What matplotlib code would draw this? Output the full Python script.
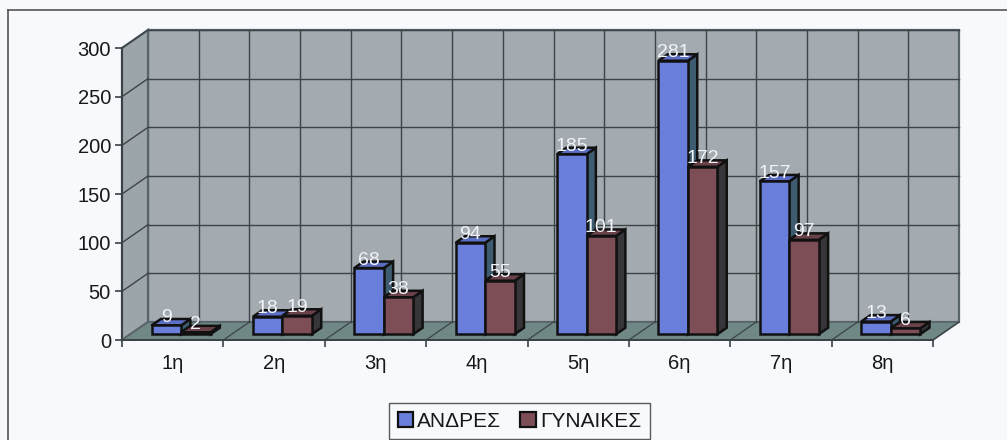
import matplotlib
matplotlib.use("Agg")
import matplotlib.pyplot as plt
from matplotlib.patches import Polygon, Patch
from matplotlib.lines import Line2D
import numpy as np

plt.rcParams['font.family'] = ['Liberation Sans', 'DejaVu Sans']

# --- data ---
categories = ['1η', '2η', '3η', '4η', '5η', '6η', '7η', '8η']
series_names = ['ΑΝΔΡΕΣ', 'ΓΥΝΑΙΚΕΣ']
men = [9, 18, 68, 94, 185, 281, 157, 13]
women = [2, 19, 38, 55, 101, 172, 97, 6]
y_ticks = list(range(0, 301, 50))

# --- style ---
bg = '#f7f9fc'
wall = '#a3abb0'
side_wall = '#9ca5aa'
floor = '#6f8886'
grid_c = '#3c4448'
front_c = ['#6a7edb', '#7e4e57']
side_c = ['#3d5c70', '#36363a']
top_c = ['#5c6fc4', '#6a424a']
text_c = '#181818'

fig = plt.figure(figsize=(10.07, 4.40), dpi=100, facecolor=bg)
ax = fig.add_axes([122 / 1007, 100 / 440, 811 / 1007, 292 / 440])
ax.set_facecolor('none')
n = len(categories)
ymax = y_ticks[-1]
ax.set_xlim(0, n)
ax.set_ylim(0, ymax)

# oblique depth of the plot box, in data units
DX, DY = 0.2565, 18.5


def poly(pts, fc, ec=grid_c, lw=1.0, z=1):
    p = Polygon(pts, closed=True, facecolor=fc, edgecolor=ec, linewidth=lw,
                clip_on=False, zorder=z, joinstyle='miter')
    ax.add_patch(p)
    return p


def seg(x0, y0, x1, y1, lw=1.0, z=1.5, c=grid_c):
    ax.add_line(Line2D([x0, x1], [y0, y1], color=c, lw=lw, clip_on=False,
                       zorder=z))


# back wall, side wall and floor
poly([(DX, DY), (n + DX, DY), (n + DX, ymax + DY), (DX, ymax + DY)], wall,
     ec='#58646a', lw=1.6, z=1)
poly([(0, 0), (DX, DY), (DX, ymax + DY), (0, ymax)], side_wall,
     ec='#58646a', lw=1.6, z=1)
poly([(0, 0), (n, 0), (n + DX, DY), (DX, DY)], floor, ec='#58646a', lw=1.2,
     z=1)

# gridlines on the walls and floor
for v in y_ticks[1:]:
    seg(DX, v + DY, n + DX, v + DY)
    seg(0, v, DX, v + DY)
for k in range(1, 2 * n):
    seg(k * 0.5 + DX, DY, k * 0.5 + DX, ymax + DY)
for k in range(1, n + 1):
    seg(k, 0, k + DX, DY, lw=0.9)

# 3-D bars
w = 0.291
f_front, f_depth = 0.32, 0.36
x_idx = np.arange(n)
base = f_front * DY
ddx, ddy = f_depth * DX, f_depth * DY
edge = '#111111'
for i in range(n):
    for s, vals in enumerate([men, women]):
        v = vals[i]
        x0 = i + 0.5 - w + s * w + f_front * DX
        x1 = x0 + w
        z = 3 + i * 0.1 + s * 0.01
        poly([(x1, base), (x1 + ddx, base + ddy), (x1 + ddx, base + v + ddy),
              (x1, base + v)], side_c[s], ec=edge, lw=1.8, z=z)
        poly([(x0, base + v), (x1, base + v), (x1 + ddx, base + v + ddy),
              (x0 + ddx, base + v + ddy)], top_c[s], ec=edge, lw=1.8, z=z)
        ax.bar(x0, v, width=w, bottom=base, align='edge', color=front_c[s],
               edgecolor=edge, linewidth=1.8, zorder=z + 0.001)
        ax.text(x0 + w / 2, base + v - 0.5, str(v), ha='center', va='bottom',
                color='#f2f3f8', fontsize=14, zorder=10)

# axes: left spine is the front edge of the side wall
for sp in ['top', 'right']:
    ax.spines[sp].set_visible(False)
ax.spines['left'].set_bounds(0, ymax)
for sp in ['left', 'bottom']:
    ax.spines[sp].set_color('#3a4246')
    ax.spines[sp].set_linewidth(1.4)
    ax.spines[sp].set_zorder(2)

ax.set_yticks(y_ticks)
ax.set_yticklabels([str(t) for t in y_ticks])
ax.tick_params(axis='y', direction='out', length=5, width=1.2,
               color='#3a4246', labelsize=14.5, labelcolor=text_c, pad=3)
ax.set_xticks(np.arange(0, n + 1))
ax.set_xticklabels([])
ax.set_xticks(x_idx + 0.5, minor=True)
ax.set_xticklabels(categories, minor=True)
ax.tick_params(axis='x', which='major', direction='out', length=5, width=1.2,
               color='#3a4246')
ax.tick_params(axis='x', which='minor', length=0, labelsize=14.5,
               labelcolor=text_c, pad=10)

# legend
handles = [Patch(facecolor=front_c[s], edgecolor=edge, linewidth=1.6)
           for s in range(2)]
leg = fig.legend(handles, series_names, loc='center',
                 bbox_to_anchor=(519.5 / 1007, 1 - 421 / 440), ncol=2,
                 fontsize=15, frameon=True, fancybox=False, shadow=False,
                 handlelength=0.75, handleheight=0.75, handletextpad=0.2,
                 columnspacing=0.9, borderpad=0.4, borderaxespad=0)
leg.get_frame().set_edgecolor('#333333')
leg.get_frame().set_linewidth(1.0)
leg.get_frame().set_facecolor(bg)
for t in leg.get_texts():
    t.set_color(text_c)

# outer chart frame (top and left edges)
fig.add_artist(Line2D([8 / 1007, 1.0], [1 - 10 / 440, 1 - 10 / 440],
                      transform=fig.transFigure, color='#555555', lw=1.2))
fig.add_artist(Line2D([8 / 1007, 8 / 1007], [0.0, 1 - 10 / 440],
                      transform=fig.transFigure, color='#555555', lw=1.2))

fig.savefig('out.png', dpi=100, facecolor=bg)
